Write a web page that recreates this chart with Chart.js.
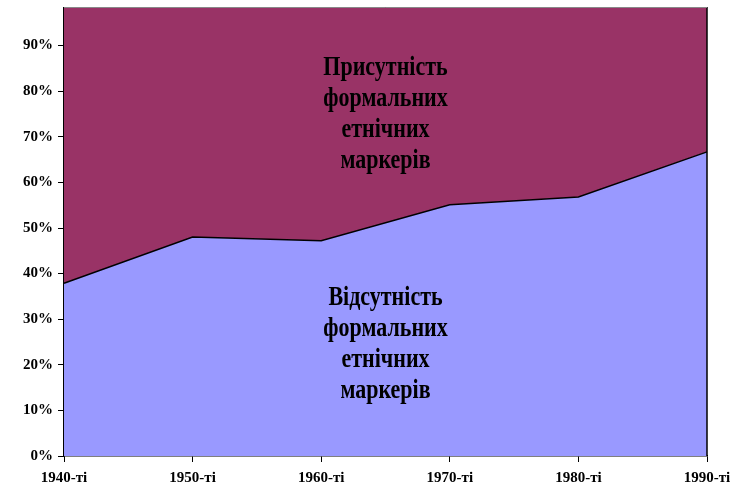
<!DOCTYPE html>
<html><head><meta charset="utf-8">
<script src="https://cdn.jsdelivr.net/npm/chart.js@4.4.0/dist/chart.umd.min.js"></script>
<style>html,body{margin:0;padding:0;background:#fff}#wrap{width:738px;height:489px}</style>
</head><body><div id="wrap"><canvas id="c" width="738" height="489"></canvas></div>
<script>
const categories = ["1940-ті","1950-ті","1960-ті","1970-ті","1980-ті","1990-ті"];
const absentValues = [37.9, 48.0, 47.2, 55.1, 56.8, 66.7];
const presentValues = [62.1, 52.0, 52.8, 44.9, 43.2, 33.3];
const absentLabel = ["Відсутність","формальних","етнічних","маркерів"];
const presentLabel = ["Присутність","формальних","етнічних","маркерів"];
const FONT = "'Liberation Serif','Times New Roman',serif";

const overlay = {
  id: 'overlay',
  afterDatasetsDraw(chart) {
    const ctx = chart.ctx, a = chart.chartArea;
    ctx.save();
    const cx = (a.left + a.right) / 2;
    ctx.fillStyle = '#000';
    ctx.font = "bold 22px " + FONT;
    ctx.textAlign = 'center';
    ctx.textBaseline = 'middle';
    const drawLines = (lines, y0) => lines.forEach((t, i) => {
      ctx.save(); ctx.translate(cx, y0 + i * 31); ctx.scale(1, 1.2); ctx.fillText(t, 0, 0); ctx.restore();
    });
    drawLines(presentLabel, 68);
    drawLines(absentLabel, 298);
    // right border
    ctx.strokeStyle = '#000';
    ctx.lineWidth = 1.5;
    ctx.beginPath(); ctx.moveTo(a.right, 7); ctx.lineTo(a.right, a.bottom); ctx.stroke();
    // white band at top (cut-off title area)
    ctx.fillStyle = '#fff';
    ctx.fillRect(0, 0, chart.width, 7);
    ctx.strokeStyle = '#888';
    ctx.lineWidth = 1;
    ctx.beginPath(); ctx.moveTo(a.left, 7.5); ctx.lineTo(a.right, 7.5); ctx.stroke();
    ctx.restore();
  }
};

new Chart(document.getElementById('c'), {
  type: 'line',
  data: {
    labels: categories,
    datasets: [
      { label: 'Відсутність', data: absentValues, backgroundColor: '#9999FF', borderColor: '#000', borderWidth: 1.5, fill: 'origin', pointRadius: 0, tension: 0 },
      { label: 'Присутність', data: presentValues, backgroundColor: '#993366', borderColor: 'rgba(0,0,0,0)', borderWidth: 0, fill: '-1', pointRadius: 0, tension: 0 }
    ]
  },
  options: {
    responsive: false,
    animation: false,
    devicePixelRatio: 1,
    layout: { padding: { top: 0, right: 31, bottom: 0, left: 0 } },
    plugins: { legend: { display: false }, tooltip: { enabled: false } },
    scales: {
      x: {
        offset: false,
        grid: { display: true, drawOnChartArea: false, drawTicks: true, tickLength: 6, color: '#000' },
        border: { display: true, color: '#000', width: 1.5 },
        ticks: { color: '#000', font: { family: FONT, size: 15, weight: 'bold' }, maxRotation: 0, padding: 7 },
        afterFit(s) { s.height = 33; s.paddingLeft = 0; s.paddingRight = 0; }
      },
      y: {
        stacked: true,
        min: 0, max: 100,
        grid: { display: true, drawOnChartArea: false, drawTicks: true, tickLength: 6, color: '#000' },
        border: { display: true, color: '#000', width: 1.5 },
        ticks: { stepSize: 10, color: '#000', font: { family: FONT, size: 15, weight: 'bold' }, padding: 5,
          callback: v => v >= 100 ? '' : v + '%' },
        afterFit(s) { s.width = 64; s.paddingTop = 0; s.paddingBottom = 0; }
      }
    }
  },
  plugins: [overlay]
});
</script></body></html>
